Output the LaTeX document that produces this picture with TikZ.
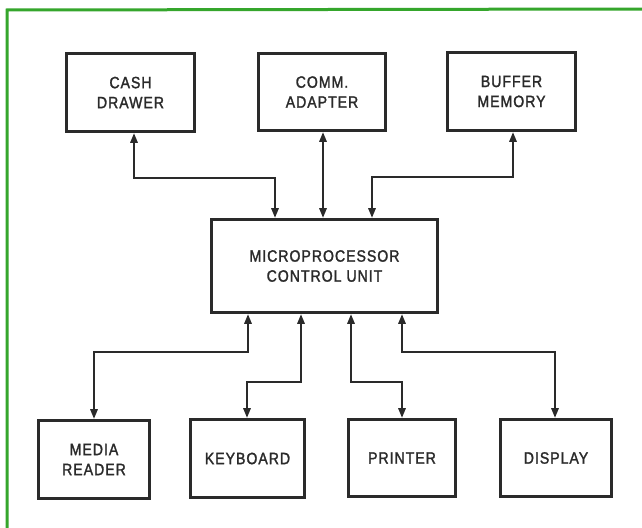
\documentclass[tikz,border=0pt]{standalone}
\usepackage{fontspec}
\newfontfamily\labfont[FakeStretch=0.86,LetterSpace=6,FakeBold=1.6]{Liberation Sans}
\usetikzlibrary{arrows.meta}
\definecolor{framegreen}{HTML}{35A62C}
\definecolor{ink}{HTML}{2A2A2A}
\tikzset{
  blockbox/.style={draw=ink, line width=3.6pt, fill=white, inner sep=0pt,
    font=\labfont\fontsize{16.4}{20}\selectfont, text=ink, align=center},
  link/.style={draw=ink, line width=1.4pt,
    {Triangle[width=7.5pt,length=9.5pt]}-{Triangle[width=7.5pt,length=9.5pt]}},
}
\begin{document}
\begin{tikzpicture}[x=1pt,y=-1pt]
\useasboundingbox (0,0) rectangle (642,527);
\fill[white] (0,0) rectangle (642,527);
% green frame
\draw[framegreen, line width=3pt] (7,530) -- (7,10) -- (650,9);
% top row
\node[blockbox, minimum width=128pt, minimum height=78pt] (cash) at (130.5,92.5) {CASH\\DRAWER};
\node[blockbox, minimum width=127pt, minimum height=77pt] (comm) at (322,92) {COMM.\\ADAPTER};
\node[blockbox, minimum width=128pt, minimum height=78pt] (buf) at (511.5,91.5) {BUFFER\\MEMORY};
% centre
\node[blockbox, minimum width=226pt, minimum height=93pt] (mcu) at (324.5,266) {MICROPROCESSOR\\CONTROL UNIT};
% bottom row
\node[blockbox, minimum width=111pt, minimum height=78pt] (media) at (94,459.5) {MEDIA\\READER};
\node[blockbox, minimum width=114pt, minimum height=78pt] (kbd) at (247.5,458.5) {KEYBOARD};
\node[blockbox, minimum width=107pt, minimum height=77pt] (prn) at (402,458) {PRINTER};
\node[blockbox, minimum width=111pt, minimum height=77pt] (disp) at (556,458) {DISPLAY};
% waypoints
\coordinate (c1) at (134,178);
\coordinate (c2) at (275,178);
\coordinate (b1) at (513,177);
\coordinate (b2) at (372,177);
\coordinate (m1) at (248,352);
\coordinate (m2) at (94,352);
\coordinate (k1) at (301,382);
\coordinate (k2) at (247,382);
\coordinate (p1) at (351,382);
\coordinate (p2) at (402,382);
\coordinate (d1) at (402,352);
\coordinate (d2) at (555,352);
% connectors
\draw[link] (cash.south -| c1) -- (c1) -- (c2) -- (c2 |- mcu.north);
\draw[link] (comm.south -| 323,0) -- (mcu.north -| 323,0);
\draw[link] (buf.south -| b1) -- (b1) -- (b2) -- (b2 |- mcu.north);
\draw[link] (mcu.south -| m1) -- (m1) -- (m2) -- (m2 |- media.north);
\draw[link] (mcu.south -| k1) -- (k1) -- (k2) -- (k2 |- kbd.north);
\draw[link] (mcu.south -| p1) -- (p1) -- (p2) -- (p2 |- prn.north);
\draw[link] (mcu.south -| d1) -- (d1) -- (d2) -- (d2 |- disp.north);
\end{tikzpicture}
\end{document}
